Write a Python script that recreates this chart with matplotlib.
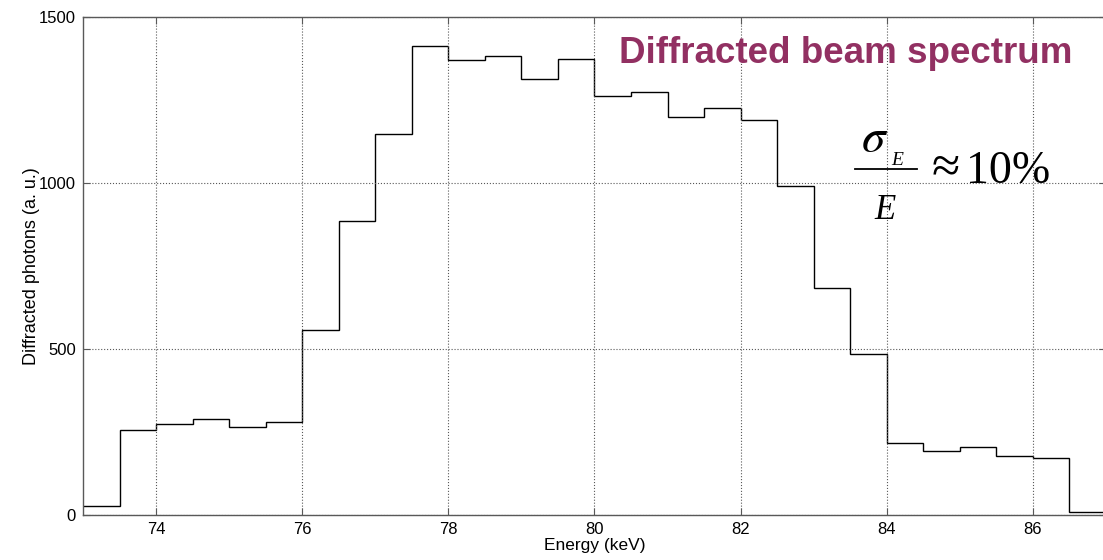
import numpy as np
import matplotlib
matplotlib.use("Agg")
import matplotlib.pyplot as plt
from matplotlib.lines import Line2D

plt.rcParams['font.family'] = ['Liberation Sans', 'DejaVu Sans']

# energy bins (keV) and diffracted photon counts per 0.5 keV bin
e_min, e_max, bin_width = 73.0, 87.0, 0.5
counts = [28, 257, 274, 289, 264, 279, 556, 885, 1149, 1412,
          1369, 1382, 1312, 1372, 1263, 1273, 1198, 1225, 1189, 990,
          683, 484, 216, 193, 204, 177, 173, 8]
x_ticks = [74, 76, 78, 80, 82, 84, 86]
y_ticks = [0, 500, 1000, 1500]

edges = np.arange(e_min, e_max + bin_width / 2, bin_width)

W, H = 1103, 560
fig = plt.figure(figsize=(W / 100, H / 100), dpi=100)
ax = fig.add_axes([83 / W, 45 / H, 1023 / W, 498 / H])

ax.stairs(counts, edges, baseline=None, color='black', linewidth=1.0)

ax.set_xlim(e_min, e_max)
ax.set_ylim(0, 1500)
ax.set_xticks(x_ticks)
ax.set_yticks(y_ticks)
ax.tick_params(direction='in', top=True, right=True, length=5,
               labelsize=12, color='0.35', pad=5)
for s in ax.spines.values():
    s.set_color('0.35')
    s.set_linewidth(1.0)
ax.grid(True, linestyle=':', color='0.35', linewidth=0.8)

ax.set_xlabel('Energy (keV)', fontsize=12.5, labelpad=1)
ax.set_ylabel('Diffracted photons (a. u.)', fontsize=13, labelpad=-1)

# title in the upper right
fig.text(0.9725, 0.905, 'Diffracted beam spectrum', color='#923062',
         fontsize=26.5, fontweight='bold', ha='right', va='center')


# sigma_E / E ~ 10% written out piece by piece (pixel positions)
def px_text(x, y, s, **kw):
    return fig.text(x / W, 1 - y / H, s, family=['Liberation Serif', 'DejaVu Serif'],
                    color='black', **kw)


px_text(875, 151, r'$\sigma$', fontsize=34, math_fontfamily='stix',
        ha='center', va='baseline')
px_text(891, 165, 'E', fontsize=14, style='italic', ha='left', va='baseline')
fig.add_artist(Line2D([855 / W, 917 / W], [1 - 169 / H] * 2,
                      transform=fig.transFigure, color='black', linewidth=1.3))
px_text(885, 219, 'E', fontsize=25, style='italic', ha='center', va='baseline')
px_text(946, 169, '\u2248', fontsize=37, ha='center', va='center')
px_text(966, 183, '10%', fontsize=33, ha='left', va='baseline')

fig.savefig('out.png', dpi=100)
